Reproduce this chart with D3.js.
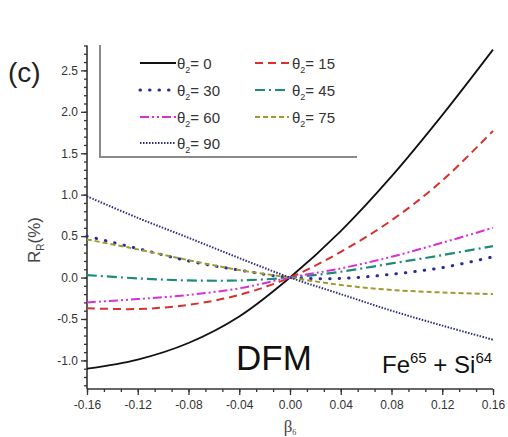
<!DOCTYPE html>
<html>
<head>
<meta charset="utf-8">
<script src="https://cdn.jsdelivr.net/npm/d3@7/dist/d3.min.js"></script>
<style>
  html, body { margin: 0; padding: 0; background: #fff; }
  svg { display: block; font-family: Arial, "Liberation Sans", sans-serif; }
</style>
</head>
<body>
<svg id="chart" width="508" height="437"></svg>
<script>
// Deformation parameter beta_6
const betas = [-0.16, -0.12, -0.08, -0.04, 0.00, 0.04, 0.08, 0.12, 0.16];

// R_R (%) for each orientation angle theta_2
const theta0  = [-1.10, -0.99, -0.79, -0.47, 0.00, 0.56, 1.22, 1.96, 2.75];
const theta15 = [-0.37, -0.38, -0.33, -0.21, 0.00, 0.31, 0.69, 1.17, 1.77];
const theta30 = [ 0.50,  0.35,  0.20,  0.09, 0.00, -0.01, 0.04, 0.12, 0.25];
const theta45 = [ 0.03, -0.01, -0.035, -0.035, 0.00, 0.07, 0.17, 0.27, 0.38];
const theta60 = [-0.30, -0.26, -0.21, -0.13, 0.00, 0.11, 0.25, 0.42, 0.60];
const theta75 = [ 0.46,  0.34,  0.21,  0.09, 0.00, -0.09, -0.15, -0.18, -0.20];
const theta90 = [ 0.98,  0.72,  0.48,  0.235, 0.00, -0.20, -0.40, -0.58, -0.75];

const thetaLabels = ["0", "15", "30", "45", "60", "75", "90"];

const xTicks = [-0.16, -0.12, -0.08, -0.04, 0.00, 0.04, 0.08, 0.12, 0.16];
const yTicks = [-1.0, -0.5, 0.0, 0.5, 1.0, 1.5, 2.0, 2.5];

const seriesValues = [theta0, theta15, theta30, theta45, theta60, theta75, theta90];
const styles = [
  { color: "#111111", width: 1.8, dash: null, cap: "butt" },
  { color: "#d9302c", width: 2.0, dash: "8 5", cap: "butt" },
  { color: "#2a2a9c", width: 3.0, dash: "0.5 9", cap: "round" },
  { color: "#1f8a78", width: 2.2, dash: "10 4 2 4", cap: "butt" },
  { color: "#d630d6", width: 2.0, dash: "9 3 2 3 2 3", cap: "butt" },
  { color: "#9c9c2e", width: 2.0, dash: "5 3", cap: "butt" },
  { color: "#2e2e7c", width: 2.0, dash: "1.5 1.5", cap: "butt" }
];

const svg = d3.select("#chart");
const plotLeft = 87, plotRight = 493, plotTop = 45.5, plotBottom = 389;

const x = d3.scaleLinear().domain([-0.16, 0.16]).range([plotLeft, plotRight]);
const y = d3.scaleLinear().domain([-1.345, 2.8]).range([plotBottom, plotTop]);

const axisColor = "#333";
const fmtMinus = s => s.replace("\u2212", "-");

// minor ticks
const xMinor = d3.range(0, 25).map(i => -0.16 + i * 0.04 / 3);
const yMinor = d3.range(-13, 29).map(i => i / 10);

const gx = svg.append("g").attr("transform", `translate(0,${plotBottom})`);
gx.call(d3.axisBottom(x).tickValues(xMinor).tickSize(3).tickFormat(""));
gx.select(".domain").remove();
const gx2 = svg.append("g").attr("transform", `translate(0,${plotBottom})`);
gx2.call(d3.axisBottom(x).tickValues(xTicks).tickSize(6).tickPadding(5)
  .tickFormat(d => fmtMinus(d3.format(".2f")(d))));

const gy = svg.append("g").attr("transform", `translate(${plotLeft},0)`);
gy.call(d3.axisLeft(y).tickValues(yMinor).tickSize(3).tickFormat(""));
gy.select(".domain").remove();
const gy2 = svg.append("g").attr("transform", `translate(${plotLeft},0)`);
gy2.call(d3.axisLeft(y).tickValues(yTicks).tickSize(6).tickPadding(3)
  .tickFormat(d => fmtMinus(d3.format(".1f")(d))));

[gx, gx2, gy, gy2].forEach(g => {
  g.selectAll("line").attr("stroke", axisColor).attr("stroke-width", 1.3);
  g.selectAll(".domain").attr("stroke", axisColor).attr("stroke-width", 1.6);
  g.selectAll("text").attr("fill", "#333").attr("font-size", 12)
    .attr("font-family", "Arial, 'Liberation Sans', sans-serif");
});
gx2.select(".domain").attr("d", `M${plotLeft},0H${plotRight}`);
gy2.select(".domain").attr("d", `M0,${plotBottom}V${plotTop}`);

// curves
const line = d3.line()
  .x((d, i) => x(betas[i]))
  .y(d => y(d))
  .curve(d3.curveCatmullRom.alpha(0.5));

seriesValues.forEach((vals, k) => {
  const s = styles[k];
  svg.append("path")
    .attr("d", line(vals))
    .attr("fill", "none")
    .attr("stroke", s.color)
    .attr("stroke-width", s.width)
    .attr("stroke-linecap", s.cap)
    .attr("stroke-dasharray", s.dash);
});

// legend frame
svg.append("path")
  .attr("d", "M100,45V157H357")
  .attr("fill", "none")
  .attr("stroke", "#8a8a8a")
  .attr("stroke-width", 2);

const rowY = [63, 90, 117, 143];
const colX = [[140, 176, 177], [255, 289, 292]];
thetaLabels.forEach((lab, k) => {
  const col = k % 2, row = Math.floor(k / 2);
  const [x1, x2, tx] = colX[col];
  const s = styles[k];
  const ly = rowY[row];
  svg.append("line")
    .attr("x1", x1).attr("x2", x2).attr("y1", ly).attr("y2", ly)
    .attr("stroke", s.color)
    .attr("stroke-width", s.width)
    .attr("stroke-linecap", s.cap)
    .attr("stroke-dasharray", s.dash);
  const t = svg.append("text")
    .attr("x", tx).attr("y", ly + 5.5)
    .attr("font-size", 15)
    .attr("fill", "#333");
  t.append("tspan").text("θ");
  t.append("tspan").attr("font-size", 9).attr("dy", 4).text("2");
  t.append("tspan").attr("dy", -4).text("= " + lab);
});

// panel label
svg.append("text").attr("x", 8).attr("y", 82)
  .attr("font-size", 28).attr("fill", "#222").text("(c)");

// axis titles
const yt = svg.append("text")
  .attr("transform", "translate(40,240) rotate(-90)")
  .attr("text-anchor", "middle")
  .attr("font-size", 17)
  .attr("fill", "#444");
yt.append("tspan").text("R");
yt.append("tspan").attr("font-size", 10).attr("dy", 4).text("R");
yt.append("tspan").attr("dy", -4).text("(%)");

const xt = svg.append("text")
  .attr("x", 290).attr("y", 432)
  .attr("text-anchor", "middle")
  .attr("font-family", "'Liberation Serif', 'DejaVu Serif', serif")
  .attr("font-size", 17)
  .attr("fill", "#444");
xt.append("tspan").text("β");
xt.append("tspan").attr("font-size", 8).attr("dy", 3).text("6");

// annotations
svg.append("text").attr("x", 236).attr("y", 370)
  .attr("font-size", 35).attr("fill", "#111").text("DFM");

const fe = svg.append("text").attr("x", 382).attr("y", 373)
  .attr("font-size", 24).attr("fill", "#111");
fe.append("tspan").text("Fe");
fe.append("tspan").attr("font-size", 15).attr("dy", -10).text("65");
fe.append("tspan").attr("dy", 10).text(" + Si");
fe.append("tspan").attr("font-size", 15).attr("dy", -10).text("64");
</script>
</body>
</html>
